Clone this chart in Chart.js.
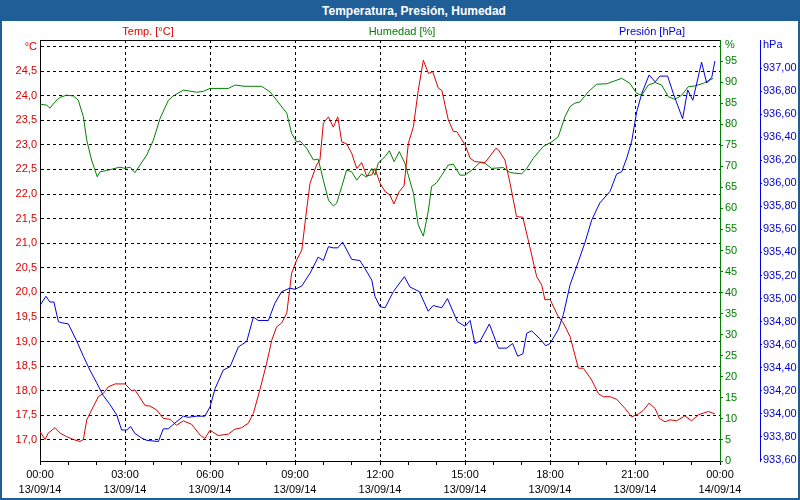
<!DOCTYPE html>
<html>
<head>
<meta charset="utf-8">
<script src="https://cdn.jsdelivr.net/npm/chart.js@4/dist/chart.umd.min.js"></script>
<style>
  html, body { margin: 0; padding: 0; background: #ffffff; }
  #wrap { position: relative; width: 800px; height: 500px; overflow: hidden; background: #ffffff; font-family: "Liberation Sans", Arial, sans-serif; }
  #bar { position: absolute; left: 0; top: 0; width: 800px; height: 21px; background: #1f5e96; }
  #title { position: absolute; left: 414px; top: 4px; transform: translateX(-50%); color: #ffffff; font-weight: bold; font-size: 12px; white-space: nowrap; }
  .axt { position: absolute; top: 25px; font-size: 11px; white-space: nowrap; transform: translateX(-50%); }
  #frame { position: absolute; left: 0; top: 0; width: 800px; height: 500px; box-sizing: border-box; border: 2px solid #1f5e96; border-top: none; pointer-events: none; }
  canvas { position: absolute; left: 0; top: 0; }
</style>
</head>
<body>
<div id="wrap">
  <canvas id="c" width="800" height="500"></canvas>
  <div id="bar"></div>
  <div id="title">Temperatura, Presión, Humedad</div>
  <div class="axt" style="left:148px;color:#dd0000">Temp. [°C]</div>
  <div class="axt" style="left:402px;color:#008000">Humedad [%]</div>
  <div class="axt" style="left:652px;color:#0000dd">Presión [hPa]</div>
  <div id="frame"></div>
</div>
<script>
// ---- data: [hour of day, value] ----
const temperature = [[0,17.17],[0.18,17.01],[0.29,17.14],[0.53,17.25],[0.71,17.14],[0.94,17.07],[1.18,17.01],[1.41,16.97],[1.53,17.01],[1.65,17.41],[1.82,17.61],[2.06,17.88],[2.24,17.95],[2.41,18.08],[2.65,18.14],[3.0,18.14],[3.24,18.0],[3.35,18.02],[3.71,17.70],[3.88,17.69],[4.12,17.61],[4.35,17.44],[4.59,17.42],[4.82,17.30],[5.06,17.39],[5.35,17.32],[5.65,17.10],[5.82,17.03],[6.0,17.20],[6.29,17.09],[6.65,17.12],[6.88,17.22],[7.12,17.25],[7.35,17.34],[7.53,17.54],[7.76,18.02],[8.0,18.56],[8.18,19.03],[8.35,19.30],[8.53,19.38],[8.71,19.58],[8.88,20.39],[9.06,20.66],[9.24,20.86],[9.41,21.68],[9.53,22.22],[9.76,22.59],[9.88,22.69],[10.0,23.44],[10.18,23.57],[10.35,23.36],[10.51,23.57],[10.65,23.06],[10.82,23.02],[11.0,22.83],[11.18,22.52],[11.35,22.64],[11.53,22.37],[11.71,22.39],[11.82,22.52],[12.0,22.22],[12.18,22.05],[12.35,21.98],[12.49,21.80],[12.68,22.05],[12.85,22.17],[13.0,23.03],[13.18,23.37],[13.35,24.11],[13.53,24.72],[13.71,24.45],[13.86,24.49],[14.06,24.15],[14.18,24.11],[14.41,23.51],[14.59,23.27],[14.71,23.27],[15.0,23.00],[15.18,22.73],[15.35,22.66],[15.71,22.64],[16.09,22.93],[16.18,22.90],[16.41,22.69],[16.59,22.22],[16.82,21.54],[17.04,21.53],[17.23,21.07],[17.53,20.32],[17.71,20.15],[17.82,19.85],[18.0,19.86],[18.29,19.51],[18.47,19.38],[18.71,19.10],[19.0,18.46],[19.18,18.46],[19.47,18.22],[19.71,17.94],[19.88,17.88],[20.12,17.88],[20.35,17.83],[20.65,17.64],[20.88,17.47],[21.12,17.53],[21.29,17.60],[21.5,17.75],[21.71,17.64],[21.86,17.44],[22.06,17.37],[22.24,17.41],[22.47,17.39],[22.76,17.49],[23.0,17.39],[23.23,17.51],[23.59,17.58],[23.82,17.53]];

const humidity = [[0,84.8],[0.24,84.5],[0.35,83.8],[0.53,85.3],[0.71,86.4],[0.94,86.9],[1.18,86.7],[1.35,85.7],[1.53,81.8],[1.65,76.2],[1.82,71.5],[2.02,67.5],[2.12,68.7],[2.35,69.0],[2.82,69.8],[3.0,69.5],[3.18,69.8],[3.35,68.5],[3.53,70.3],[3.77,72.7],[4.0,76.2],[4.24,81.4],[4.53,85.7],[4.7,86.7],[5.06,88.1],[5.53,87.6],[5.76,87.8],[6.0,88.5],[6.65,88.5],[6.88,89.3],[7.24,89.0],[7.82,89.0],[8.12,87.7],[8.35,85.7],[8.71,82.6],[8.88,77.8],[9.06,75.8],[9.18,76.0],[9.41,74.3],[9.65,71.5],[9.82,71.7],[10.0,66.7],[10.18,62.0],[10.35,60.6],[10.47,61.2],[10.65,65.2],[10.82,69.1],[11.0,68.7],[11.18,66.7],[11.35,68.2],[11.53,67.4],[11.71,69.5],[11.82,67.9],[11.94,70.8],[12.18,72.3],[12.33,73.7],[12.5,71.1],[12.68,73.5],[12.88,70.7],[13.18,63.6],[13.35,56.1],[13.53,53.4],[13.71,59.6],[13.82,65.2],[14.0,66.1],[14.18,67.9],[14.41,70.3],[14.59,70.5],[14.82,67.9],[15.0,67.9],[15.24,69.1],[15.53,70.9],[15.71,70.7],[15.94,69.5],[16.35,69.7],[16.59,68.5],[17.0,68.2],[17.18,69.5],[17.41,71.9],[17.76,74.7],[18.06,75.8],[18.29,77.0],[18.53,81.8],[18.71,84.2],[18.88,85.0],[19.06,85.3],[19.35,87.7],[19.65,89.5],[20.0,89.6],[20.29,90.3],[20.53,90.9],[20.82,89.7],[21.06,87.3],[21.24,86.9],[21.47,89.3],[21.71,89.9],[21.94,89.3],[22.18,86.5],[22.41,85.9],[22.65,86.9],[22.88,88.9],[23.12,89.1],[23.41,89.7],[23.76,90.9]];

const pressure = [[0,934.94],[0.21,935.02],[0.35,934.97],[0.49,934.97],[0.65,934.80],[0.77,934.79],[1.0,934.78],[1.3,934.63],[1.53,934.50],[1.76,934.38],[2.0,934.27],[2.23,934.16],[2.47,934.08],[2.71,933.99],[2.88,933.86],[3.06,933.86],[3.2,933.89],[3.35,933.83],[3.59,933.79],[3.77,933.77],[4.18,933.76],[4.35,933.87],[4.53,933.87],[4.76,933.92],[5.06,933.98],[5.23,933.97],[5.53,933.98],[5.82,933.98],[6.0,934.06],[6.18,934.22],[6.47,934.38],[6.71,934.41],[7.0,934.58],[7.3,934.63],[7.53,934.84],[7.7,934.81],[8.06,934.81],[8.29,934.96],[8.53,935.06],[8.82,935.09],[9.0,935.08],[9.24,935.11],[9.53,935.22],[9.82,935.36],[10.0,935.33],[10.18,935.45],[10.35,935.44],[10.51,935.44],[10.68,935.49],[11.0,935.34],[11.29,935.33],[11.47,935.26],[11.71,935.16],[11.82,935.02],[12.0,934.93],[12.18,934.92],[12.47,935.06],[12.86,935.19],[13.06,935.10],[13.39,935.06],[13.7,934.89],[13.88,934.94],[14.18,934.92],[14.38,935.00],[14.73,934.80],[15.0,934.76],[15.18,934.81],[15.35,934.61],[15.53,934.63],[15.86,934.78],[16.18,934.57],[16.47,934.57],[16.68,934.61],[16.86,934.50],[17.04,934.52],[17.18,934.70],[17.35,934.72],[17.65,934.65],[17.85,934.59],[18.0,934.61],[18.29,934.73],[18.47,934.86],[18.71,935.12],[19.0,935.32],[19.24,935.49],[19.47,935.68],[19.76,935.83],[20.12,935.93],[20.35,936.08],[20.53,936.10],[20.71,936.22],[20.88,936.36],[21.06,936.62],[21.24,936.78],[21.5,936.94],[21.71,936.88],[21.88,936.93],[22.15,936.93],[22.35,936.78],[22.68,936.56],[22.86,936.81],[23.04,936.72],[23.35,937.05],[23.53,936.87],[23.71,936.92],[23.82,937.06]];

// ---- ticks & labels ----
const hourTicks = [0,1,2,3,4,5,6,7,8,9,10,11,12,13,14,15,16,17,18,19,20,21,22,23,24];
const timeLabels = {0:'00:00',3:'03:00',6:'06:00',9:'09:00',12:'12:00',15:'15:00',18:'18:00',21:'21:00',24:'00:00'};
const dateLabels = {0:'13/09/14',3:'13/09/14',6:'13/09/14',9:'13/09/14',12:'13/09/14',15:'13/09/14',18:'13/09/14',21:'13/09/14',24:'14/09/14'};
const tempTicks = [17.0,17.5,18.0,18.5,19.0,19.5,20.0,20.5,21.0,21.5,22.0,22.5,23.0,23.5,24.0,24.5,25.0];
const humTicks = [0,5,10,15,20,25,30,35,40,45,50,55,60,65,70,75,80,85,90,95,98.8];
const presTicks = [933.6,933.8,934.0,934.2,934.4,934.6,934.8,935.0,935.2,935.4,935.6,935.8,936.0,936.2,936.4,936.6,936.8,937.0,937.2];
const unitLabels = { temp: [25.0, '°C'], hum: [98.8, '%'], pres: [937.2, 'hPa'] };

const RED = '#dd0000', GREEN = '#008000', BLUE = '#0000dd';
const toXY = arr => arr.map(p => ({ x: p[0], y: p[1] }));
const comma = (v, d) => v.toFixed(d).replace('.', ',');

Chart.defaults.font.family = '"Liberation Sans", Arial, sans-serif';
Chart.defaults.font.size = 11;

const topLine = {
  id: 'topLine',
  afterDraw(chart) {
    const { ctx, chartArea: a } = chart;
    ctx.save();
    ctx.strokeStyle = '#000';
    ctx.lineWidth = 1;
    ctx.beginPath();
    ctx.moveTo(a.left, a.top + 0.5);
    ctx.lineTo(a.right, a.top + 0.5);
    ctx.stroke();
    ctx.restore();
  }
};

new Chart(document.getElementById('c'), {
  type: 'line',
  data: {
    datasets: [
      { label: 'Presión', data: toXY(pressure), yAxisID: 'yP', borderColor: BLUE, borderWidth: 1, pointRadius: 0, tension: 0 },
      { label: 'Temp', data: toXY(temperature), yAxisID: 'yT', borderColor: RED, borderWidth: 1, pointRadius: 0, tension: 0 },
      { label: 'Humedad', data: toXY(humidity), yAxisID: 'yH', borderColor: GREEN, borderWidth: 1, pointRadius: 0, tension: 0 }
    ]
  },
  options: {
    responsive: false,
    animation: false,
    devicePixelRatio: 1,
    layout: { padding: { top: 40, left: 0, right: 0, bottom: 0 } },
    plugins: { legend: { display: false }, tooltip: { enabled: false }, title: { display: false } },
    scales: {
      x: {
        type: 'linear', position: 'bottom', min: 0, max: 24,
        afterBuildTicks: s => { s.ticks = hourTicks.map(v => ({ value: v })); },
        afterFit: s => { s.height = 39; },
        ticks: {
          autoSkip: false, maxRotation: 0, minRotation: 0, color: '#000', padding: 2,
          font: { size: 11, lineHeight: 15 / 11 },
          callback: v => (timeLabels[v] !== undefined ? [timeLabels[v], dateLabels[v]] : '')
        },
        grid: {
          color: c => (c.tick && c.tick.value % 3 === 0 ? '#000' : 'rgba(0,0,0,0)'),
          tickColor: '#000', tickLength: 4, lineWidth: 1, tickBorderDash: []
        },
        border: { display: true, color: '#000', width: 1, dash: [3, 3] }
      },
      yT: {
        type: 'linear', position: 'left', min: 16.573, max: 25.132,
        afterBuildTicks: s => { s.ticks = tempTicks.map(v => ({ value: v })); },
        afterFit: s => { s.width = 40; },
        ticks: {
          color: RED, padding: 3,
          callback: v => (v === unitLabels.temp[0] ? unitLabels.temp[1] : comma(v, 1))
        },
        grid: { color: '#000', drawTicks: false, lineWidth: 1 },
        border: { display: true, color: '#000', width: 1, dash: [3, 3] }
      },
      yH: {
        type: 'linear', position: 'right', min: 0, max: 100,
        afterBuildTicks: s => { s.ticks = humTicks.map(v => ({ value: v })); },
        afterFit: s => { s.width = 40; },
        ticks: {
          color: GREEN, padding: 2,
          callback: v => (v === unitLabels.hum[0] ? unitLabels.hum[1] : String(v))
        },
        grid: {
          drawOnChartArea: false, tickLength: 3,
          tickColor: c => (c.tick && c.tick.value === unitLabels.hum[0] ? 'rgba(0,0,0,0)' : GREEN)
        },
        border: { display: true, color: GREEN, width: 1 }
      },
      yP: {
        type: 'linear', position: 'right', min: 933.591, max: 937.243,
        afterBuildTicks: s => { s.ticks = presTicks.map(v => ({ value: v })); },
        afterFit: s => { s.width = 40; },
        ticks: {
          color: BLUE, padding: 1,
          callback: v => (Math.abs(v - unitLabels.pres[0]) < 1e-6 ? unitLabels.pres[1] : comma(v, 2))
        },
        grid: {
          drawOnChartArea: false, tickLength: 2,
          tickColor: c => (c.tick && Math.abs(c.tick.value - unitLabels.pres[0]) < 1e-6 ? 'rgba(0,0,0,0)' : BLUE)
        },
        border: { display: true, color: BLUE, width: 1 }
      }
    }
  },
  plugins: [topLine]
});
</script>
</body>
</html>
